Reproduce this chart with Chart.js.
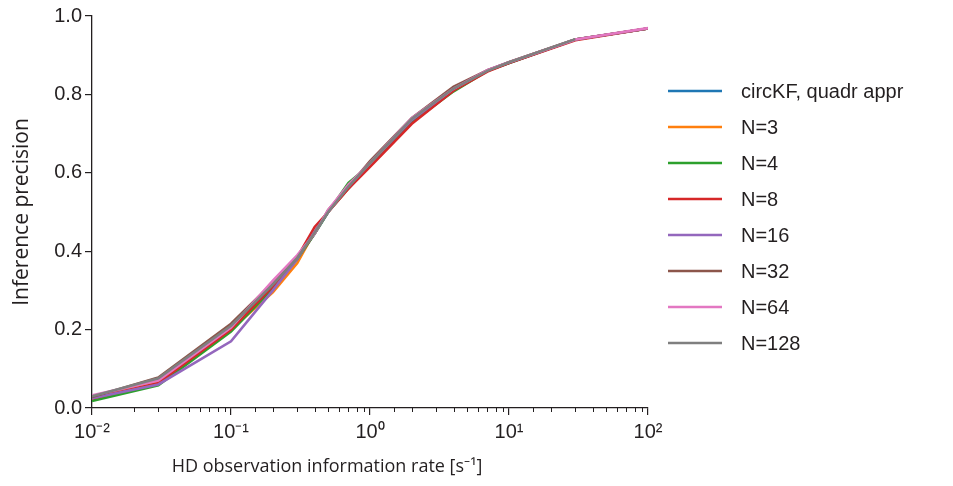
<!DOCTYPE html>
<html>
<head>
<meta charset="utf-8">
<script src="https://cdn.jsdelivr.net/npm/chart.js@4/dist/chart.umd.min.js"></script>
<style>
html,body{margin:0;padding:0;background:#fff;}
#wrap{width:953px;height:486px;position:relative;}
</style>
</head>
<body>
<div id="wrap"><canvas id="c" width="953" height="486"></canvas></div>
<script>
const rates = [0.01, 0.03, 0.1, 0.2, 0.3, 0.4, 0.5, 0.7, 1, 2, 4, 7, 10, 30, 100];
const seriesLabels = ["circKF, quadr appr", "N=3", "N=4", "N=8", "N=16", "N=32", "N=64", "N=128"];
const circKF = [0.028, 0.072, 0.205, 0.31, 0.38, 0.445, 0.50, 0.56, 0.62, 0.735, 0.815, 0.86, 0.88, 0.94, 0.968];
const n3   = [0.025, 0.065, 0.20, 0.295, 0.37, 0.45, 0.50, 0.56, 0.625, 0.735, 0.815, 0.86, 0.882, 0.94, 0.968];
const n4   = [0.018, 0.058, 0.195, 0.305, 0.38, 0.445, 0.50, 0.574, 0.62, 0.73, 0.808, 0.86, 0.88, 0.94, 0.968];
const n8   = [0.024, 0.064, 0.20, 0.31, 0.385, 0.462, 0.50, 0.56, 0.615, 0.725, 0.81, 0.858, 0.88, 0.938, 0.968];
const n16  = [0.025, 0.060, 0.17, 0.30, 0.38, 0.45, 0.50, 0.565, 0.625, 0.735, 0.815, 0.862, 0.882, 0.94, 0.968];
const n32  = [0.028, 0.078, 0.215, 0.32, 0.385, 0.445, 0.505, 0.565, 0.63, 0.74, 0.82, 0.862, 0.882, 0.94, 0.968];
const n64  = [0.032, 0.070, 0.205, 0.325, 0.39, 0.445, 0.505, 0.57, 0.625, 0.74, 0.815, 0.862, 0.882, 0.94, 0.969];
const n128 = [0.030, 0.076, 0.21, 0.315, 0.383, 0.447, 0.50, 0.565, 0.625, 0.738, 0.815, 0.86, 0.882, 0.941, null];
const yTicks = [0, 0.2, 0.4, 0.6, 0.8, 1.0];
const xMajor = [0.01, 0.1, 1, 10, 100];
const xMajorLabels = ["10\u207B\u00B2", "10\u207B\u00B9", "10\u2070", "10\u00B9", "10\u00B2"];
const xTitle = 'HD observation information rate [s\u207B\u00B9]';
const yTitle = 'Inference precision';

const allSeries = [circKF, n3, n4, n8, n16, n32, n64, n128];
const colors = ["#1f77b4", "#ff7f0e", "#2ca02c", "#d62728", "#9467bd", "#8c564b", "#e377c2", "#7f7f7f"];

const TXT = "#231f20";
const tickFont = {family: "'Liberation Sans', Arial, sans-serif", size: 20};

const datasets = allSeries.map((vals, i) => ({
  label: seriesLabels[i],
  data: rates.map((r, j) => ({x: r, y: vals[j]})).filter(p => p.y !== null),
  borderColor: colors[i],
  backgroundColor: colors[i],
  borderWidth: 2.6,
  pointRadius: 0,
  tension: 0,
  fill: false,
  order: allSeries.length - i
}));

const isMajor = v => xMajor.some(m => Math.abs(Math.log10(v) - Math.log10(m)) < 1e-6);

const legendPlugin = {
  id: 'customLegend',
  afterDraw(chart) {
    const ctx = chart.ctx;
    ctx.save();
    ctx.font = "20px 'Liberation Sans', Arial, sans-serif";
    ctx.textBaseline = 'middle';
    ctx.textAlign = 'left';
    seriesLabels.forEach((lab, i) => {
      const y = 91 + i * 36;
      ctx.strokeStyle = colors[i];
      ctx.lineWidth = 2.5;
      ctx.beginPath();
      ctx.moveTo(668, y);
      ctx.lineTo(722, y);
      ctx.stroke();
      ctx.fillStyle = TXT;
      ctx.fillText(lab, 741, y + 1);
    });
    // x axis title (offset left of chart-area centre, as in the reference)
    ctx.font = "18px 'Open Sans', 'Noto Sans', sans-serif";
    ctx.textAlign = 'center';
    ctx.fillText(xTitle, 327, 467);
    ctx.restore();
  }
};

const minorTickPlugin = {
  id: 'minorTicks',
  afterDraw(chart) {
    const xs = chart.scales.x;
    const ctx = chart.ctx;
    ctx.save();
    ctx.strokeStyle = TXT;
    ctx.lineWidth = 1;
    xs.ticks.forEach(t => {
      if (isMajor(t.value)) return;
      const px = Math.round(xs.getPixelForValue(t.value)) + 0.5;
      ctx.beginPath();
      ctx.moveTo(px, xs.top);
      ctx.lineTo(px, xs.top + 4);
      ctx.stroke();
    });
    ctx.restore();
  }
};

new Chart(document.getElementById('c'), {
  type: 'line',
  data: {datasets},
  plugins: [legendPlugin, minorTickPlugin],
  options: {
    responsive: false,
    animation: false,
    layout: {padding: {left: 0, top: 16, right: 305, bottom: 0}},
    plugins: {legend: {display: false}, tooltip: {enabled: false}},
    scales: {
      x: {
        type: 'logarithmic',
        min: 0.01,
        max: 100,
        border: {display: true, color: TXT, width: 1.3},
        grid: {
          display: true,
          drawOnChartArea: false,
          drawTicks: true,
          tickLength: 7,
          tickColor: ctx => (ctx.tick && isMajor(ctx.tick.value)) ? TXT : 'rgba(0,0,0,0)',
          lineWidth: 1.2
        },
        ticks: {
          autoSkip: false,
          maxRotation: 0,
          color: TXT,
          font: tickFont,
          padding: 5,
          callback: (v) => {
            const k = xMajor.findIndex(m => Math.abs(Math.log10(v) - Math.log10(m)) < 1e-6);
            return k >= 0 ? xMajorLabels[k] : '';
          }
        },
        title: {display: false, text: xTitle},
        afterFit: s => { s.height = 78; }
      },
      y: {
        type: 'linear',
        min: 0,
        max: 1,
        border: {display: true, color: TXT, width: 1.3},
        grid: {display: true, drawOnChartArea: false, drawTicks: true, tickLength: 7, tickColor: TXT, lineWidth: 1.2},
        ticks: {
          stepSize: 0.2,
          color: TXT,
          font: tickFont,
          padding: 3,
          callback: v => yTicks.some(t => Math.abs(t - v) < 1e-9) ? v.toFixed(1) : ''
        },
        title: {
          display: true,
          text: yTitle,
          color: TXT,
          font: {family: "'Open Sans', 'Noto Sans', sans-serif", size: 21},
          padding: {top: 9, bottom: 0}
        },
        afterFit: s => { s.width = 92; }
      }
    }
  }
});
</script>
</body>
</html>
